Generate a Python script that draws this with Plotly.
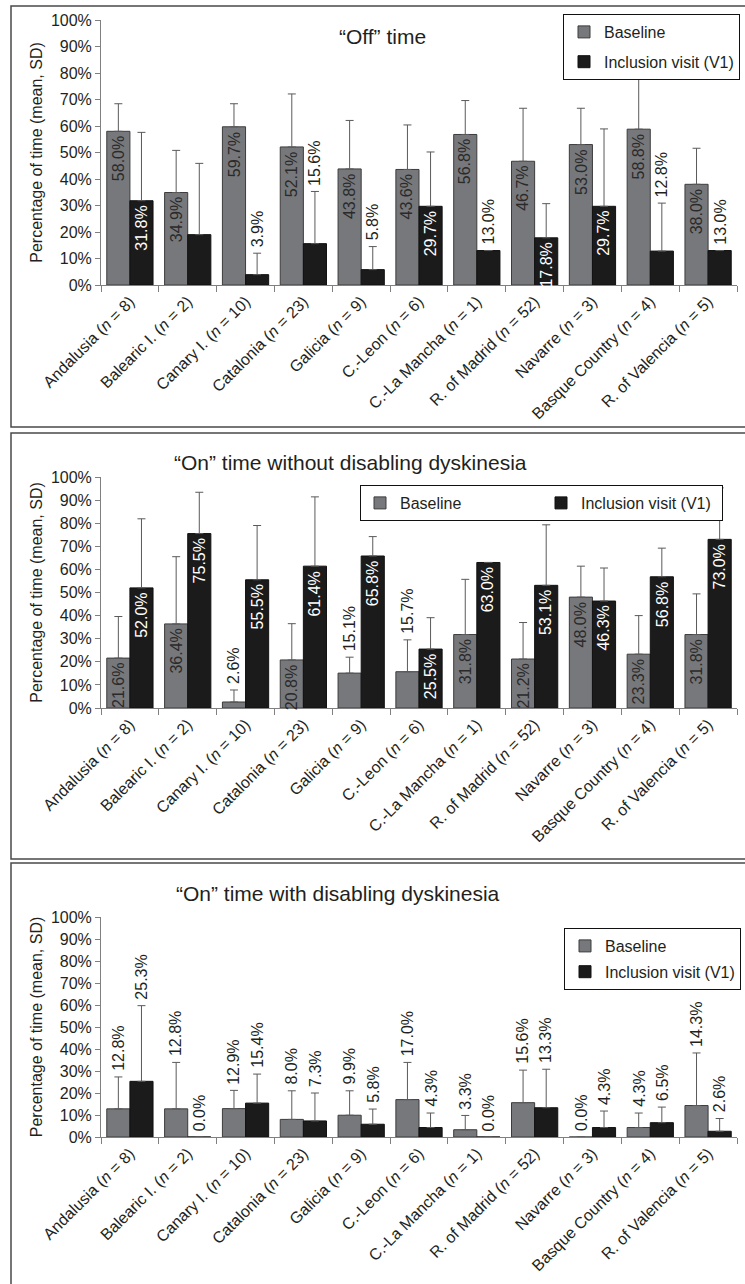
import plotly.graph_objects as go

# Regions and sample sizes
regions = ["Andalusia", "Balearic I.", "Canary I.", "Catalonia", "Galicia", "C.-Leon",
           "C.-La Mancha", "R. of Madrid", "Navarre", "Basque Country", "R. of Valencia"]
n_patients = [8, 2, 10, 23, 9, 6, 1, 52, 3, 4, 5]

series_names = ["Baseline", "Inclusion visit (V1)"]

# "Off" time (% of waking time, mean and SD)
off_baseline = [58.0, 34.9, 59.7, 52.1, 43.8, 43.6, 56.8, 46.7, 53.0, 58.8, 38.0]
off_baseline_sd = [10.4, 15.9, 8.7, 20.0, 18.3, 16.8, 12.8, 20.0, 13.7, 18.9, 13.6]
off_v1 = [31.8, 19.0, 3.9, 15.6, 5.8, 29.7, 13.0, 17.8, 29.7, 12.8, 13.0]
off_v1_sd = [25.8, 26.9, 8.1, 19.7, 8.7, 20.5, 0.0, 12.9, 29.2, 18.1, 0.0]

# "On" time without disabling dyskinesia
on_good_baseline = [21.6, 36.4, 2.6, 20.8, 15.1, 15.7, 31.8, 21.2, 48.0, 23.3, 31.8]
on_good_baseline_sd = [18.0, 29.1, 5.2, 15.7, 6.9, 13.8, 23.9, 15.8, 13.4, 16.7, 17.6]
on_good_v1 = [52.0, 75.5, 55.5, 61.4, 65.8, 25.5, 63.0, 53.1, 46.3, 56.8, 73.0]
on_good_v1_sd = [29.9, 17.9, 23.5, 30.0, 8.4, 13.6, 0.0, 26.2, 14.3, 12.4, 22.3]

# "On" time with disabling dyskinesia
on_dysk_baseline = [12.8, 12.8, 12.9, 8.0, 9.9, 17.0, 3.3, 15.6, 0.0, 4.3, 14.3]
on_dysk_baseline_sd = [14.5, 21.1, 8.3, 13.0, 11.1, 16.9, 6.5, 14.8, 0.0, 6.6, 23.9]
on_dysk_v1 = [25.3, 0.0, 15.4, 7.3, 5.8, 4.3, 0.0, 13.3, 4.3, 6.5, 2.6]
on_dysk_v1_sd = [34.4, 0.0, 13.2, 12.7, 6.9, 6.6, 0.0, 17.5, 7.5, 7.1, 5.8]

panel_titles = ["\u201cOff\u201d time",
                "\u201cOn\u201d time without disabling dyskinesia",
                "\u201cOn\u201d time with disabling dyskinesia"]
y_title = "Percentage of time (mean, SD)"

# Where each value label sits: inside the bar top, above the whisker, or omitted
label_modes = [
    (["in"] * 11,
     ["in", "", "out", "out", "out", "in", "out", "in", "in", "out", "out"]),
    (["in", "in", "out", "in", "out", "out", "in", "in", "in", "in", "in"],
     ["in"] * 11),
    (["out"] * 11, ["out"] * 11),
]

panels = [
    (off_baseline, off_baseline_sd, off_v1, off_v1_sd),
    (on_good_baseline, on_good_baseline_sd, on_good_v1, on_good_v1_sd),
    (on_dysk_baseline, on_dysk_baseline_sd, on_dysk_v1, on_dysk_v1_sd),
]

W, H = 745, 1284
FONT = "Liberation Sans, Arial, Helvetica, sans-serif"
TEXT = "#231f20"
GREY_BAR = "#77787b"
BLACK_BAR = "#1b1b1b"


def px_x(x):
    return x / W


def px_y(y):
    return 1 - y / H


tick_text = [f"{r} (<i>n</i> = {n})" for r, n in zip(regions, n_patients)]
positions = list(range(len(regions)))

# Pixel frames of the three plotting areas: (top, bottom)
plot_rows = [(20, 285), (477, 708), (917, 1137)]
x_left, x_right = 101, 737

fig = go.Figure()
annotations = []
shapes = []

for k, (base, base_sd, v1, v1_sd) in enumerate(panels):
    sfx = "" if k == 0 else str(k + 1)
    xref, yref = "x" + sfx, "y" + sfx
    legend_id = "legend" + sfx
    for j, (vals, sds, color, edge, name) in enumerate([
        (base, base_sd, GREY_BAR, "#3c3c3c", series_names[0]),
        (v1, v1_sd, BLACK_BAR, "#111111", series_names[1]),
    ]):
        fig.add_trace(go.Bar(
            x=positions, y=vals, name=name,
            width=0.4, offset=-0.4 if j == 0 else 0.0,
            marker=dict(color=color, line=dict(color=edge, width=1)),
            error_y=dict(type="data", symmetric=False, array=sds,
                         arrayminus=[0] * len(sds), color="#5a5a5a",
                         thickness=1, width=4),
            xaxis=xref, yaxis=yref, legend=legend_id,
            legendgroup=f"{name}{k}", showlegend=True,
            hoverinfo="skip",
        ))
        modes = label_modes[k][j]
        for i, (v, s) in enumerate(zip(vals, sds)):
            mode = modes[i]
            if not mode:
                continue
            xpos = i - 0.2 if j == 0 else i + 0.2
            if mode == "in":
                col = "#2a2a2a" if j == 0 else "white"
                annotations.append(dict(
                    x=xpos, y=v, xref=xref, yref=yref, text=f"{v:.1f}%",
                    textangle=-90, showarrow=False, yanchor="top",
                    xanchor="center", yshift=-3,
                    font=dict(family=FONT, size=16, color=col)))
            else:
                annotations.append(dict(
                    x=xpos, y=v + s, xref=xref, yref=yref, text=f"{v:.1f}%",
                    textangle=-90, showarrow=False, yanchor="bottom",
                    xanchor="center", yshift=4,
                    font=dict(family=FONT, size=16, color=TEXT)))

    top, bottom = plot_rows[k]
    fig.update_layout(**{
        "xaxis" + sfx: dict(
            domain=[px_x(x_left), px_x(x_right)],
            range=[-0.5, len(regions) - 0.5], automargin=False,
            anchor=yref, tickmode="array", tickvals=positions, ticktext=tick_text,
            tickangle=-45, ticks="", showgrid=False, zeroline=False,
            showline=True, linecolor="#808080", linewidth=1,
            tickfont=dict(family=FONT, size=16, color=TEXT),
            minor=dict(ticks="outside", tick0=-0.5, dtick=1, ticklen=6,
                       tickcolor="#808080", tickwidth=1, showgrid=False),
            fixedrange=True,
        ),
        "yaxis" + sfx: dict(
            domain=[px_y(bottom), px_y(top)], range=[0, 100], dtick=10,
            anchor=xref, automargin=False, ticksuffix="%", ticks="outside", ticklen=5,
            tickcolor="#808080", showline=True, linecolor="#808080",
            linewidth=1, showgrid=False, zeroline=False,
            tickfont=dict(family=FONT, size=16, color=TEXT),
            title=dict(text=y_title, standoff=4,
                       font=dict(family=FONT, size=16, color=TEXT)),
            fixedrange=True,
        ),
    })

# Panel titles
title_centres = [(382, 36), (350, 462), (338, 893)]
for t, (cx, cy) in zip(panel_titles, title_centres):
    annotations.append(dict(x=px_x(cx), y=px_y(cy), xref="paper", yref="paper",
                            text=t, showarrow=False, xanchor="center", yanchor="middle",
                            font=dict(family=FONT, size=21, color=TEXT)))

# Frames around each panel
frames = [(11, 6, 427), (11, 433, 859), (11, 863, 1290)]
for x0, y0, y1 in frames:
    shapes.append(dict(type="rect", xref="paper", yref="paper",
                       x0=px_x(x0), x1=1.05, y0=px_y(y1), y1=px_y(y0),
                       line=dict(color="#4a4a4a", width=1.5), fillcolor="rgba(0,0,0,0)",
                       layer="below"))

legend_common = dict(bgcolor="white", bordercolor="#111111", borderwidth=1,
                     font=dict(family=FONT, size=16, color=TEXT), itemclick=False,
                     itemdoubleclick=False)

fig.update_layout(
    width=W, height=H, margin=dict(l=0, r=0, t=0, b=0, autoexpand=False),
    paper_bgcolor="white", plot_bgcolor="white",
    barmode="overlay", showlegend=True,
    annotations=annotations, shapes=shapes,
    legend=dict(x=px_x(740), xanchor="right", y=px_y(14), yanchor="top",
                tracegroupgap=6, **legend_common),
    legend2=dict(x=px_x(360), xanchor="left", y=px_y(485), yanchor="top",
                 orientation="h", entrywidth=136, entrywidthmode="pixels",
                 **legend_common),
    legend3=dict(x=px_x(741), xanchor="right", y=px_y(928), yanchor="top",
                 tracegroupgap=2, **legend_common),
    font=dict(family=FONT, color=TEXT),
)

fig.write_html("out.html")
